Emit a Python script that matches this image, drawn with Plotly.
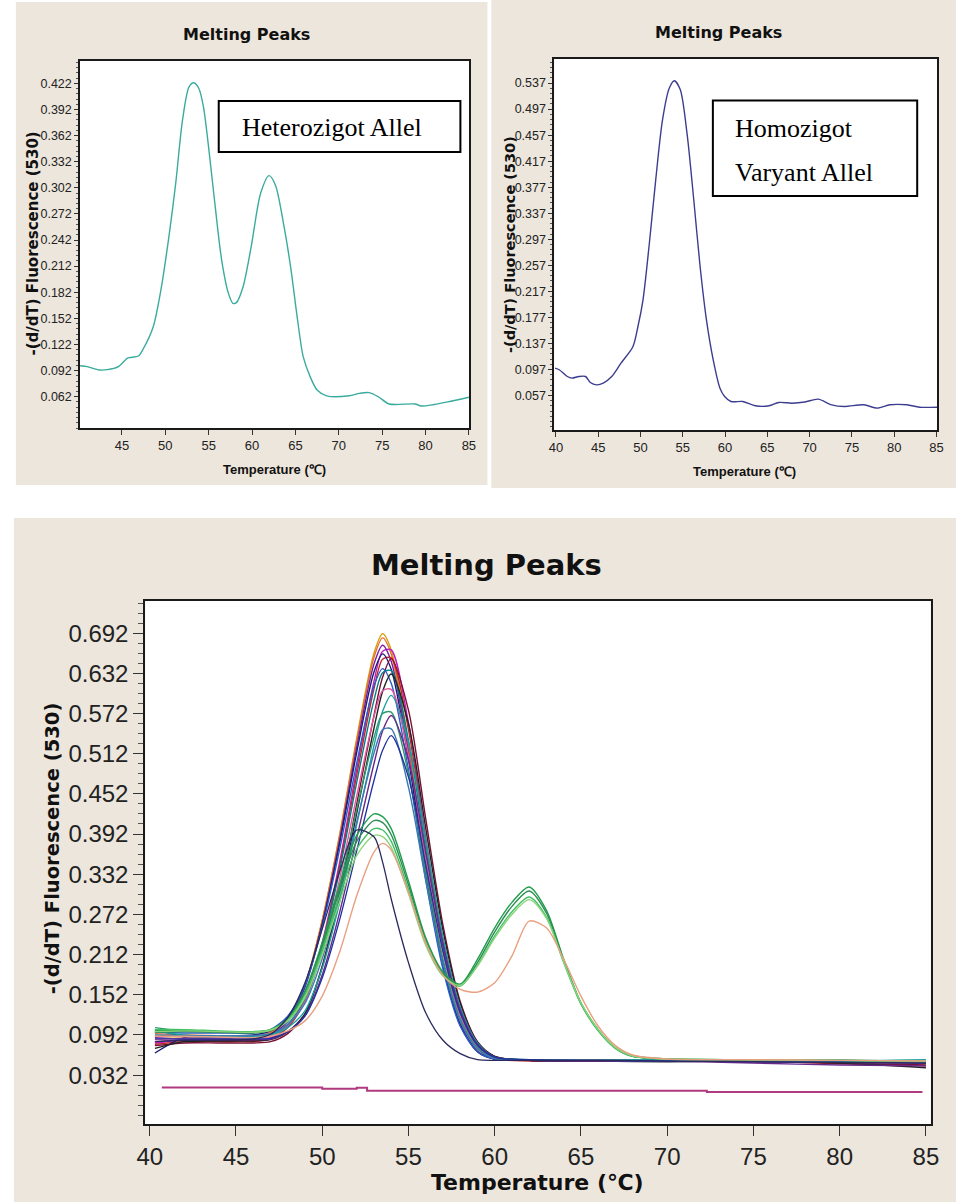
import plotly.graph_objects as go

# ---------------- data ----------------
# top-left panel: heterozygous allele
het_x = [40.17, 41.0, 42.4, 43.3, 44.6, 45.6, 45.95, 46.9, 47.5, 48.6, 49.5, 50.47, 51.2, 51.99,
         52.74, 53.3, 53.87, 54.4, 54.99, 55.76, 56.5, 57.27, 57.8, 58.2, 58.96, 59.9, 61.0, 61.97,
         62.7, 63.7, 64.5, 65.2, 65.9, 66.7, 67.5, 68.6, 71.2, 72.4, 73.5, 74.6, 75.8, 78.8, 79.5,
         81.0, 82.56, 85.0]
het_y = [0.0976, 0.0965, 0.0927, 0.093, 0.0965, 0.106, 0.107, 0.1087, 0.1176, 0.142, 0.185, 0.2497,
         0.307, 0.380, 0.418, 0.4226, 0.416, 0.395, 0.349, 0.280, 0.219, 0.181, 0.1693, 0.170, 0.188,
         0.234, 0.296, 0.316, 0.305, 0.257, 0.2075, 0.154, 0.108, 0.085, 0.0697, 0.063, 0.063, 0.0658,
         0.0666, 0.0616, 0.0536, 0.0536, 0.0513, 0.053, 0.056, 0.0613]

# top-right panel: homozygous variant allele
hom_x = [39.9, 40.4, 41.35, 41.9, 42.7, 43.5, 44.07, 44.8, 45.6, 46.6, 47.7, 49.1, 49.7, 50.3,
         51.05, 51.8, 52.6, 53.4, 54.0, 54.7, 55.5, 56.3, 57.05, 57.8, 58.6, 59.4, 59.95, 60.7,
         62.1, 63.6, 65.2, 66.35, 67.9, 69.45, 71.0, 72.6, 74.1, 76.4, 78.0, 79.5, 81.5, 83.0, 85.1]
hom_y = [0.0991, 0.0966, 0.0862, 0.0837, 0.0862, 0.0862, 0.077, 0.0734, 0.076, 0.0862, 0.1068, 0.132,
         0.163, 0.204, 0.291, 0.388, 0.480, 0.529, 0.5406, 0.527, 0.4602, 0.3577, 0.2552, 0.1733,
         0.1119, 0.0683, 0.0555, 0.0478, 0.0478, 0.0412, 0.0412, 0.0463, 0.0452, 0.047, 0.0514,
         0.0427, 0.0401, 0.0427, 0.0376, 0.0427, 0.0427, 0.039, 0.039]

# bottom panel: all samples
grid = [40.3, 42, 44, 46, 47, 48, 49, 50, 51, 52, 53, 53.5, 54, 55, 56, 57, 58, 59, 60, 62, 66, 70, 75, 80, 85]
c01 = [0.090, 0.089, 0.088, 0.088, 0.094, 0.115, 0.167, 0.263, 0.390, 0.535, 0.662, 0.691, 0.667, 0.526, 0.348, 0.202, 0.109, 0.068, 0.056, 0.054, 0.055, 0.054, 0.053, 0.052, 0.050]
c02 = [0.094, 0.092, 0.091, 0.090, 0.096, 0.117, 0.167, 0.263, 0.388, 0.531, 0.656, 0.685, 0.661, 0.522, 0.345, 0.200, 0.109, 0.068, 0.056, 0.055, 0.054, 0.055, 0.052, 0.051, 0.049]
c03 = [0.080, 0.084, 0.084, 0.084, 0.088, 0.105, 0.145, 0.230, 0.349, 0.489, 0.620, 0.665, 0.667, 0.558, 0.386, 0.232, 0.127, 0.075, 0.057, 0.054, 0.053, 0.054, 0.052, 0.053, 0.051]
c04 = [0.088, 0.086, 0.086, 0.086, 0.092, 0.112, 0.163, 0.257, 0.381, 0.522, 0.646, 0.674, 0.650, 0.514, 0.340, 0.198, 0.108, 0.067, 0.056, 0.054, 0.054, 0.053, 0.054, 0.052, 0.050]
c05 = [0.078, 0.082, 0.082, 0.082, 0.086, 0.103, 0.142, 0.226, 0.343, 0.480, 0.609, 0.653, 0.655, 0.548, 0.380, 0.228, 0.125, 0.075, 0.057, 0.053, 0.053, 0.054, 0.053, 0.049, 0.046]
c06 = [0.065, 0.088, 0.090, 0.092, 0.098, 0.118, 0.166, 0.257, 0.377, 0.514, 0.634, 0.661, 0.638, 0.504, 0.334, 0.195, 0.107, 0.067, 0.056, 0.054, 0.054, 0.055, 0.053, 0.054, 0.052]
c07 = [0.076, 0.080, 0.080, 0.080, 0.082, 0.094, 0.123, 0.195, 0.304, 0.437, 0.569, 0.626, 0.654, 0.577, 0.415, 0.256, 0.142, 0.082, 0.060, 0.054, 0.053, 0.053, 0.052, 0.050, 0.047]
c08 = [0.100, 0.090, 0.088, 0.088, 0.092, 0.108, 0.145, 0.225, 0.337, 0.469, 0.592, 0.633, 0.636, 0.532, 0.369, 0.223, 0.123, 0.074, 0.057, 0.055, 0.054, 0.055, 0.054, 0.053, 0.054]
c09 = [0.096, 0.095, 0.095, 0.095, 0.100, 0.120, 0.166, 0.253, 0.368, 0.498, 0.613, 0.639, 0.617, 0.488, 0.324, 0.190, 0.105, 0.067, 0.056, 0.054, 0.053, 0.054, 0.055, 0.053, 0.052]
c10 = [0.072, 0.082, 0.083, 0.083, 0.085, 0.097, 0.124, 0.193, 0.297, 0.423, 0.550, 0.605, 0.631, 0.557, 0.401, 0.248, 0.139, 0.081, 0.060, 0.054, 0.053, 0.052, 0.053, 0.050, 0.043]
c11 = [0.085, 0.087, 0.087, 0.087, 0.090, 0.106, 0.142, 0.218, 0.324, 0.449, 0.567, 0.606, 0.608, 0.510, 0.354, 0.215, 0.120, 0.073, 0.057, 0.055, 0.054, 0.053, 0.052, 0.051, 0.050]
c12 = [0.098, 0.092, 0.090, 0.090, 0.092, 0.103, 0.128, 0.192, 0.289, 0.406, 0.524, 0.575, 0.599, 0.529, 0.382, 0.238, 0.134, 0.080, 0.059, 0.055, 0.054, 0.055, 0.054, 0.053, 0.055]
c13 = [0.103, 0.098, 0.097, 0.096, 0.099, 0.113, 0.146, 0.216, 0.314, 0.429, 0.536, 0.572, 0.574, 0.482, 0.336, 0.205, 0.116, 0.072, 0.057, 0.055, 0.054, 0.054, 0.053, 0.054, 0.053]
c14 = [0.082, 0.085, 0.085, 0.085, 0.086, 0.097, 0.121, 0.182, 0.274, 0.386, 0.497, 0.546, 0.569, 0.503, 0.364, 0.228, 0.130, 0.078, 0.059, 0.054, 0.053, 0.053, 0.050, 0.047, 0.046]
c15 = [0.092, 0.091, 0.091, 0.091, 0.094, 0.107, 0.139, 0.206, 0.300, 0.410, 0.513, 0.548, 0.549, 0.462, 0.323, 0.198, 0.113, 0.071, 0.057, 0.055, 0.054, 0.054, 0.055, 0.054, 0.053]
late_blue = [0.086, 0.086, 0.086, 0.086, 0.087, 0.097, 0.120, 0.177, 0.263, 0.367, 0.472, 0.517, 0.539, 0.477, 0.346, 0.217, 0.125, 0.077, 0.059, 0.055, 0.054, 0.053, 0.052, 0.051, 0.050]
early_navy = [0.082, 0.084, 0.084, 0.086, 0.093, 0.118, 0.170, 0.250, 0.335, 0.398, 0.388, 0.350, 0.295, 0.200, 0.125, 0.084, 0.064, 0.055, 0.054, 0.054, 0.054, 0.053, 0.052, 0.051, 0.050]

het_grid = [40.3, 42, 44, 46, 47, 48, 49, 50, 51, 52, 53, 53.5, 54, 55, 56, 57, 58, 59, 60, 61, 62, 63, 64, 65, 66, 67, 68, 70, 75, 80, 85]
h1 = [0.098, 0.099, 0.097, 0.096, 0.100, 0.117, 0.158, 0.230, 0.315, 0.390, 0.422, 0.418, 0.400, 0.322, 0.237, 0.186, 0.168, 0.205, 0.252, 0.290, 0.313, 0.278, 0.205, 0.140, 0.100, 0.073, 0.061, 0.056, 0.055, 0.054, 0.052]
h2 = [0.096, 0.097, 0.096, 0.095, 0.099, 0.116, 0.155, 0.225, 0.308, 0.381, 0.412, 0.409, 0.391, 0.316, 0.233, 0.183, 0.166, 0.200, 0.246, 0.284, 0.307, 0.274, 0.203, 0.139, 0.099, 0.072, 0.060, 0.056, 0.055, 0.054, 0.053]
h3 = [0.100, 0.100, 0.098, 0.097, 0.100, 0.115, 0.152, 0.219, 0.299, 0.370, 0.400, 0.398, 0.381, 0.309, 0.229, 0.181, 0.165, 0.196, 0.240, 0.276, 0.298, 0.268, 0.200, 0.138, 0.098, 0.072, 0.060, 0.056, 0.055, 0.054, 0.053]
h4 = [0.097, 0.098, 0.097, 0.096, 0.099, 0.113, 0.148, 0.212, 0.290, 0.360, 0.390, 0.388, 0.372, 0.303, 0.226, 0.180, 0.166, 0.195, 0.237, 0.272, 0.294, 0.266, 0.201, 0.140, 0.100, 0.073, 0.061, 0.056, 0.055, 0.054, 0.053]
h5 = [0.090, 0.090, 0.089, 0.088, 0.090, 0.098, 0.113, 0.150, 0.215, 0.300, 0.365, 0.378, 0.368, 0.305, 0.230, 0.181, 0.160, 0.156, 0.170, 0.210, 0.262, 0.252, 0.205, 0.150, 0.105, 0.076, 0.062, 0.056, 0.055, 0.054, 0.053]

ntc_x = [40.7, 50.0, 52.0, 52.6, 72.3, 84.8]
ntc_y = [0.0135, 0.0115, 0.013, 0.0085, 0.0068, 0.0068]

tl_yticks = [0.062, 0.092, 0.122, 0.152, 0.182, 0.212, 0.242, 0.272, 0.302, 0.332, 0.362, 0.392, 0.422]
tr_yticks = [0.057, 0.097, 0.137, 0.177, 0.217, 0.257, 0.297, 0.337, 0.377, 0.417, 0.457, 0.497, 0.537]
b_yticks = [0.032, 0.092, 0.152, 0.212, 0.272, 0.332, 0.392, 0.452, 0.512, 0.572, 0.632, 0.692]
tl_xticks = [45, 50, 55, 60, 65, 70, 75, 80, 85]
all_xticks = [40, 45, 50, 55, 60, 65, 70, 75, 80, 85]

cluster = [c01, c02, c03, c04, c05, c06, c07, c08, c09, c10, c11, c12, c13, c14, c15]
cluster_colors = ['#d4a017', '#e8702a', '#c020c0', '#7a1fa0', '#c02828', '#1c1c78', '#7a1034',
                  '#00808a', '#2a5cc8', '#222222', '#e05aa0', '#1aa0a0', '#2e9a70', '#6a2a8a', '#3c78b4']
het_list = [h1, h2, h3, h4, h5]
het_colors = ['#1f9e4a', '#2e8b57', '#40c060', '#8ad47a', '#e8a080']

# ---------------- figure ----------------
W, H = 964, 1202
def fx(p): return p / W
def fy(p): return 1 - p / H

fig = go.Figure()
sp = dict(shape='spline', smoothing=0.8)

fig.add_trace(go.Scatter(x=het_x, y=het_y, mode='lines', xaxis='x', yaxis='y',
                         line=dict(color='#3aab9d', width=1.4, **sp), showlegend=False, hoverinfo='skip'))
fig.add_trace(go.Scatter(x=hom_x, y=hom_y, mode='lines', xaxis='x2', yaxis='y2',
                         line=dict(color='#3d3d8f', width=1.4, **sp), showlegend=False, hoverinfo='skip'))

for vals, col in zip(cluster, cluster_colors):
    fig.add_trace(go.Scatter(x=grid, y=vals, mode='lines', xaxis='x3', yaxis='y3',
                             line=dict(color=col, width=1.4, **sp), showlegend=False, hoverinfo='skip'))
fig.add_trace(go.Scatter(x=grid, y=late_blue, mode='lines', xaxis='x3', yaxis='y3',
                         line=dict(color='#2030a0', width=1.3, **sp), showlegend=False, hoverinfo='skip'))
for vals, col in zip(het_list, het_colors):
    fig.add_trace(go.Scatter(x=het_grid, y=vals, mode='lines', xaxis='x3', yaxis='y3',
                             line=dict(color=col, width=1.4, **sp), showlegend=False, hoverinfo='skip'))
fig.add_trace(go.Scatter(x=grid, y=early_navy, mode='lines', xaxis='x3', yaxis='y3',
                         line=dict(color='#2a2a5e', width=1.3, **sp), showlegend=False, hoverinfo='skip'))
fig.add_trace(go.Scatter(x=ntc_x, y=ntc_y, mode='lines', xaxis='x3', yaxis='y3',
                         line=dict(color='#b03a80', width=2, shape='hv'), showlegend=False, hoverinfo='skip'))

sans = 'Liberation Sans, Arial'
def ax(fs, family, ticklen, lw):
    return dict(showline=True, mirror=True, linecolor='#1a1a1a', linewidth=lw, ticks='outside',
                ticklen=ticklen, tickcolor='#333', tickwidth=1, showgrid=False, zeroline=False,
                tickfont=dict(family=family, size=fs, color='#222'), fixedrange=True)

fig.update_layout(
    width=W, height=H, margin=dict(l=0, r=0, t=0, b=0), paper_bgcolor='white', plot_bgcolor='white',
    xaxis=dict(domain=[fx(72.3), fx(468.3)], anchor='y', range=[40.17, 85.02], tickvals=tl_xticks,
               **ax(13, sans, 5, 1.5)),
    yaxis=dict(domain=[fy(428), fy(60.7)], anchor='x', range=[0.026, 0.448], tickvals=tl_yticks,
               tickformat='.3f', minor=dict(dtick=0.006, tick0=0.062, ticklen=2, ticks='outside', tickcolor='#555'),
               **ax(12.5, sans, 4, 1.5)),
    xaxis2=dict(domain=[fx(555), fx(945)], anchor='y2', range=[39.8, 85.1], tickvals=all_xticks,
                **ax(13, sans, 5, 1.5)),
    yaxis2=dict(domain=[fy(430), fy(59)], anchor='x2', range=[0.004, 0.574], tickvals=tr_yticks,
                tickformat='.3f', minor=dict(dtick=0.008, tick0=0.057, ticklen=2, ticks='outside', tickcolor='#555'),
                **ax(12.5, sans, 4, 1.5)),
    xaxis3=dict(domain=[fx(138.7), fx(938.3)], anchor='y3', range=[39.74, 85.28], tickvals=all_xticks,
                **ax(24, sans, 10, 2)),
    yaxis3=dict(domain=[fy(1124), fy(601)], anchor='x3', range=[-0.041, 0.740], tickvals=b_yticks,
                tickformat='.3f', minor=dict(dtick=0.015, tick0=0.032, ticklen=5, ticks='outside', tickcolor='#555'),
                **ax(24, sans, 10, 2)),
)

beige = '#ede6dc'
shapes = [
    dict(type='rect', xref='paper', yref='paper', x0=fx(7), x1=fx(487), y0=fy(485), y1=fy(2),
         fillcolor=beige, line=dict(width=0), layer='below'),
    dict(type='rect', xref='paper', yref='paper', x0=fx(491), x1=fx(964), y0=fy(488), y1=fy(0),
         fillcolor=beige, line=dict(width=0), layer='below'),
    dict(type='rect', xref='paper', yref='paper', x0=fx(5), x1=fx(964), y0=fy(1202), y1=fy(518),
         fillcolor=beige, line=dict(width=0), layer='below'),
    dict(type='rect', xref='paper', yref='paper', x0=fx(72.3), x1=fx(468.3), y0=fy(428), y1=fy(60.7),
         fillcolor='white', line=dict(width=0), layer='below'),
    dict(type='rect', xref='paper', yref='paper', x0=fx(555), x1=fx(945), y0=fy(430), y1=fy(59),
         fillcolor='white', line=dict(width=0), layer='below'),
    dict(type='rect', xref='paper', yref='paper', x0=fx(138.7), x1=fx(938.3), y0=fy(1124), y1=fy(601),
         fillcolor='white', line=dict(width=0), layer='below'),
    # label boxes
    dict(type='rect', xref='paper', yref='paper', x0=fx(213.5), x1=fx(459.5), y0=fy(152), y1=fy(101),
         fillcolor='white', line=dict(color='black', width=2)),
    dict(type='rect', xref='paper', yref='paper', x0=fx(716.5), x1=fx(924.5), y0=fy(196), y1=fy(100.5),
         fillcolor='white', line=dict(color='black', width=2)),
]
fig.update_layout(shapes=shapes)

def note(text, x, y, size, family='DejaVu Sans', weight='bold', angle=0, xanchor='center', color='#111'):
    return dict(text=text, x=fx(x), y=fy(y), xref='paper', yref='paper', showarrow=False,
                xanchor=xanchor, yanchor='middle', textangle=angle,
                font=dict(family=family, size=size, color=color, weight=weight))

annotations = [
    note('Melting Peaks', 242, 35, 16),
    note('Melting Peaks', 722, 33, 16),
    note('Melting Peaks', 486, 565, 29),
    note('-(d/dT) Fluorescence (530)', 24, 244, 15, angle=-90),
    note('-(d/dT) Fluorescence (530)', 510, 245, 14.5, angle=-90),
    note('-(d/dT) Fluorescence (530)', 44, 848, 19.5, angle=-90),
    note('Temperature (℃)', 270, 469, 13, family=sans),
    note('Temperature (℃)', 749, 471, 13, family=sans),
    note('Temperature (℃)', 538, 1182, 22),
    note('Heterozigot Allel', 235, 127, 26, family='Liberation Serif', weight='normal', xanchor='left', color='black'),
    note('Homozigot', 737, 128, 26, family='Liberation Serif', weight='normal', xanchor='left', color='black'),
    note('Varyant Allel', 737, 173, 26, family='Liberation Serif', weight='normal', xanchor='left', color='black'),
]
fig.update_layout(annotations=annotations)

fig.write_html('out.html', config={'displayModeBar': False},
               post_script="document.body.style.margin='0px';")
